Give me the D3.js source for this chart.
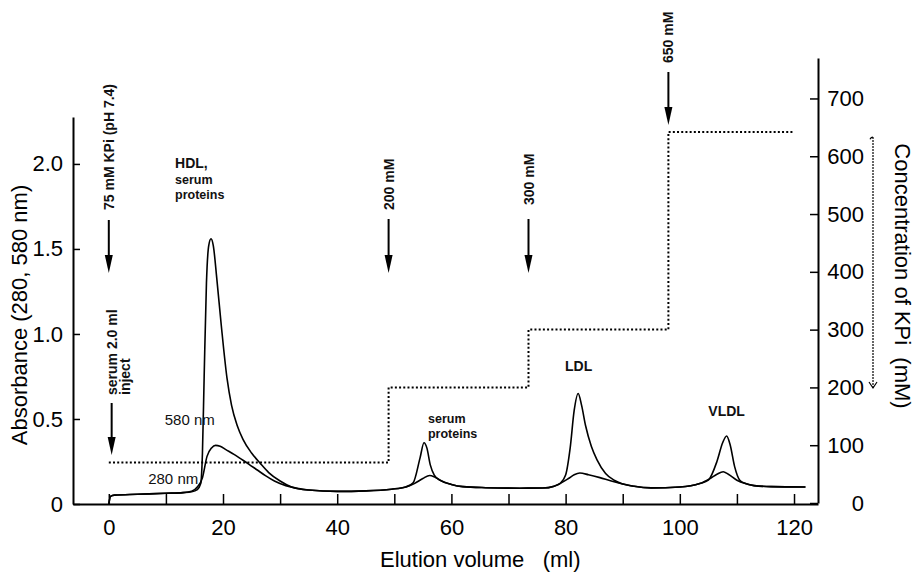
<!DOCTYPE html>
<html>
<head>
<meta charset="utf-8">
<script src="https://cdn.jsdelivr.net/npm/d3@7"></script>
<style>
  body { margin: 0; background: #fff; }
  svg { display: block; font-family: "Liberation Sans", Arial, Helvetica, sans-serif; }
  .axis path, .axis line { stroke: #000; }
  .axis text { font-size: 22px; fill: #000; }
  .note { font-size: 14px; font-weight: bold; fill: #111; }
</style>
</head>
<body>
<div id="graph"></div>
<script>
// tall trace (the big HDL peak), [volume ml, absorbance]
const traceTall = [
  [0, 0], [0.3, 0.045], [1, 0.052], [5, 0.057], [10, 0.063], [13, 0.067], [14.5, 0.072],
  [15.5, 0.085], [16.1, 0.12], [16.4, 0.3], [16.7, 0.75], [17.1, 1.3], [17.5, 1.52],
  [17.9, 1.56], [18.3, 1.52], [18.9, 1.33], [19.7, 1.05], [20.7, 0.74], [21.5, 0.58],
  [22.5, 0.46], [23.5, 0.38], [25, 0.3], [26.5, 0.24], [28, 0.185], [30, 0.135], [32, 0.1],
  [35, 0.082], [40, 0.074], [45, 0.077], [49.5, 0.087], [52, 0.1], [53.3, 0.125],
  [54.5, 0.27], [55.2, 0.36], [55.7, 0.33], [56.3, 0.23], [57, 0.17], [58, 0.14],
  [60, 0.115], [62, 0.102], [66, 0.096], [72, 0.093], [76, 0.094], [78, 0.105], [79, 0.12],
  [80, 0.17], [80.8, 0.33], [81.5, 0.55], [82.2, 0.65], [82.8, 0.58], [83.5, 0.46],
  [84.5, 0.34], [85.5, 0.26], [87, 0.18], [88.5, 0.14], [90, 0.118], [92, 0.104],
  [95, 0.095], [100, 0.1], [103.5, 0.12], [105, 0.14], [106.5, 0.25], [107.5, 0.36],
  [108.2, 0.4], [108.8, 0.35], [109.6, 0.22], [110.5, 0.14], [111.5, 0.12], [113, 0.108],
  [116, 0.102], [122, 0.1]
];
// low trace
const traceLow = [
  [0, 0], [0.3, 0.045], [1, 0.052], [5, 0.057], [10, 0.063], [13, 0.067], [14.5, 0.075],
  [15.5, 0.1], [16.4, 0.155], [17.2, 0.28], [18, 0.33], [18.7, 0.345], [19.5, 0.34],
  [20.5, 0.32], [22, 0.29], [23, 0.268], [24.5, 0.235], [26, 0.2], [27.5, 0.165],
  [29, 0.135], [31, 0.108], [33, 0.092], [35, 0.082], [40, 0.074], [45, 0.077],
  [49.5, 0.087], [52, 0.1], [53.5, 0.12], [55, 0.15], [56.2, 0.168], [57, 0.16], [58, 0.14],
  [60, 0.115], [62, 0.102], [66, 0.096], [72, 0.093], [76, 0.094], [78, 0.105], [79, 0.12],
  [80.5, 0.15], [81.5, 0.172], [82.5, 0.182], [84, 0.172], [86, 0.155], [88, 0.135],
  [90, 0.118], [92, 0.104], [95, 0.095], [100, 0.1], [103.5, 0.12], [105.3, 0.15],
  [106.5, 0.175], [107.6, 0.19], [108.5, 0.175], [110, 0.14], [111.5, 0.12], [113, 0.108],
  [116, 0.102], [122, 0.1]
];
// KPi step gradient
const kpiVolume = [0, 49, 73.5, 98, 120];
const kpiConc = [70, 200, 300, 642, 642];

const xTicks = [0, 20, 40, 60, 80, 100, 120];
const xMinorTicks = [10, 30, 50, 70, 90, 110];
const absTicks = [0, 0.5, 1.0, 1.5, 2.0];
const concTicks = [0, 100, 200, 300, 400, 500, 600, 700];

const eventVolume = [0, 49, 73.5, 98];
const eventLabel = ["75 mM KPi (pH 7.4)", "200 mM", "300 mM", "650 mM"];
const peakLabel = ["HDL,", "serum", "proteins", "serum", "proteins", "LDL", "VLDL", "580 nm", "280 nm"];

const W = 916, H = 572;
const left = 73, right = 818, bottom = 504;

const svg = d3.select("#graph").append("svg").attr("width", W).attr("height", H);

const x = d3.scaleLinear().domain([-6.27, 124.2]).range([left, right]);
const yAbs = d3.scaleLinear().domain([0, 2.276]).range([bottom, 117]);
const yConc = d3.scaleLinear().domain([0, 770]).range([bottom - 1, 58]);

// axes
svg.append("g").attr("class", "axis").attr("transform", `translate(0,${bottom})`)
  .call(d3.axisBottom(x).tickValues(xTicks).tickSizeInner(-10).tickSizeOuter(0).tickPadding(15));
svg.append("g").attr("class", "axis").attr("transform", `translate(0,${bottom})`)
  .call(d3.axisBottom(x).tickValues(xMinorTicks).tickSizeInner(-10).tickSizeOuter(0).tickFormat(""))
  .select(".domain").remove();
svg.append("g").attr("class", "axis").attr("transform", `translate(${left},0)`)
  .call(d3.axisLeft(yAbs).tickValues(absTicks).tickSizeInner(-7).tickSizeOuter(0).tickPadding(10)
    .tickFormat((d) => (d === 0 ? "0" : d3.format(".1f")(d))));
const yAxisR = svg.append("g").attr("class", "axis").attr("transform", `translate(${right},0)`)
  .call(d3.axisRight(yConc).tickValues(concTicks).tickSizeInner(-8).tickSizeOuter(0).tickPadding(46));
yAxisR.selectAll("text").attr("text-anchor", "end");
svg.selectAll(".axis .domain").attr("stroke-width", 2);
svg.selectAll(".axis .tick line").attr("stroke-width", 1.5);

// axis titles
svg.append("text").attr("transform", `translate(27,315) rotate(-90)`)
  .attr("text-anchor", "middle").attr("font-size", 22).text("Absorbance (280, 580 nm)");
svg.append("text").attr("x", 380).attr("y", 567).attr("font-size", 22)
  .style("white-space", "pre").text("Elution volume   (ml)");
svg.append("text").attr("transform", `translate(895,276) rotate(90)`)
  .attr("text-anchor", "middle").attr("font-size", 22)
  .style("white-space", "pre").text("Concentration of KPi  (mM)");

// right bracket arrow
const bx = right + 55;
svg.append("line").attr("x1", bx).attr("x2", bx).attr("y1", yConc(633)).attr("y2", yConc(199))
  .attr("stroke", "#000").attr("stroke-width", 1.6).attr("stroke-dasharray", "1.5,1.5");
svg.append("path").attr("d", `M${bx - 3},${yConc(633) + 2} Q${bx - 2},${yConc(633)} ${bx},${yConc(633)}`)
  .attr("fill", "none").attr("stroke", "#000").attr("stroke-width", 1.2);
svg.append("path").attr("d", `M${bx - 4},${yConc(199) - 6} L${bx},${yConc(199)} L${bx + 4},${yConc(199) - 6}`)
  .attr("fill", "none").attr("stroke", "#000").attr("stroke-width", 1.2);

// KPi dotted step line
const kpiLine = d3.line().x((d) => x(d[0])).y((d) => yConc(d[1])).curve(d3.curveStepAfter);
svg.append("path").datum(kpiVolume.map((v, i) => [v, kpiConc[i]]))
  .attr("d", kpiLine).attr("fill", "none").attr("stroke", "#000")
  .attr("stroke-width", 2).attr("stroke-dasharray", "2,2.2");

// absorbance traces
const absLine = d3.line().x((d) => x(d[0])).y((d) => yAbs(d[1])).curve(d3.curveMonotoneX);
[traceLow, traceTall].forEach((t) => {
  svg.append("path").datum(t).attr("d", absLine).attr("fill", "none")
    .attr("stroke", "#000").attr("stroke-width", 1.6).attr("stroke-linejoin", "round");
});

// event arrows and rotated labels
function arrow(xp, y1, y2) {
  svg.append("line").attr("x1", xp).attr("x2", xp).attr("y1", y1).attr("y2", y2 - 12)
    .attr("stroke", "#000").attr("stroke-width", 2);
  svg.append("path").attr("d", `M${xp - 4},${y2 - 18} L${xp + 4},${y2 - 18} L${xp},${y2} Z`).attr("fill", "#000");
}
function vtext(xp, yp, str) {
  svg.append("text").attr("class", "note")
    .attr("transform", `translate(${xp},${yp}) rotate(-90)`).attr("dy", "0.36em").text(str);
}
const eventText = [[210, 220, 273], [210, 219, 273], [205, 219, 273], [63, 72, 125]];
eventVolume.forEach((v, i) => {
  const xp = x(v);
  const [ty, a1, a2] = eventText[i];
  vtext(xp, ty, eventLabel[i]);
  arrow(xp, a1, a2);
});
// injection
vtext(x(0.5), 395, "serum 2.0 ml");
vtext(x(0.5) + 13, 395, "inject");
arrow(x(0.5), 403, 455);

// peak labels
const noteAt = (ml, yp, str, size, weight) =>
  svg.append("text").attr("x", x(ml)).attr("y", yp).attr("font-size", size)
    .attr("font-weight", weight).attr("fill", "#111").text(str);
noteAt(11.6, 168, peakLabel[0], 14, "bold");
noteAt(11.6, 184, peakLabel[1], 12.5, "bold");
noteAt(11.6, 199, peakLabel[2], 12.5, "bold");
noteAt(55.9, 423, peakLabel[3], 12.5, "bold");
noteAt(55.9, 438, peakLabel[4], 12.5, "bold");
noteAt(79.9, 371, peakLabel[5], 14, "bold");
noteAt(105, 416, peakLabel[6], 14, "bold");
noteAt(9.8, 425, peakLabel[7], 15, "normal");
noteAt(6.9, 484, peakLabel[8], 15, "normal");
</script>
</body>
</html>
